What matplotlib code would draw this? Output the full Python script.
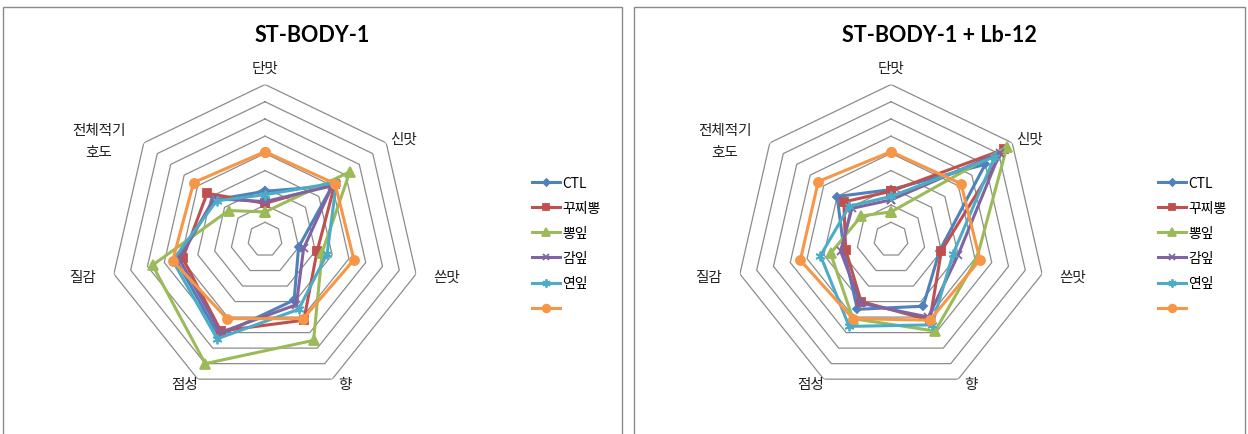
"""
plot.py

Sensory radar charts: ST-BODY-1 and ST-BODY-1 + Lb-12.
"""

import matplotlib

matplotlib.use("Agg")

import matplotlib.pyplot as plt
import numpy as np
from matplotlib.lines import Line2D
from matplotlib.patches import Rectangle

plt.rcParams["font.family"] = ["Noto Sans CJK KR", "DejaVu Sans"]

# ---------------------------------------------------------------- data
categories = ["단맛", "신맛", "쓴맛", "향", "점성", "질감", "전체적기\n호도"]
series_names = ["CTL", "꾸찌뽕", "뽕잎", "감잎", "연잎", ""]

# ST-BODY-1
left_ctl = [2.8, 5.0, 2.0, 3.9, 6.2, 5.3, 3.7]
left_kku = [2.1, 5.2, 3.1, 5.2, 5.9, 4.9, 4.3]
left_ppong = [1.6, 6.3, 3.4, 6.5, 8.0, 6.7, 2.7]
left_gam = [2.2, 5.0, 2.3, 4.2, 6.0, 5.1, 3.8]
left_yeon = [2.6, 5.3, 3.7, 4.5, 6.4, 5.5, 3.6]
left_ref = [5.1, 5.2, 5.3, 5.1, 5.1, 5.5, 5.3]

# ST-BODY-1 + Lb-12
right_ctl = [2.9, 7.0, 2.9, 4.3, 4.5, 2.8, 4.0]
right_kku = [2.8, 8.4, 3.0, 5.2, 4.0, 2.7, 3.5]
right_ppong = [1.6, 8.6, 5.1, 5.9, 5.1, 3.6, 2.2]
right_gam = [2.3, 8.1, 4.0, 5.0, 4.1, 3.0, 2.9]
right_yeon = [2.5, 7.7, 3.7, 5.5, 5.6, 4.2, 3.1]
right_ref = [5.1, 5.2, 5.3, 5.2, 5.1, 5.4, 5.4]

ring_values = [1, 2, 3, 4, 5, 6, 7, 8, 9]

# ---------------------------------------------------------------- style
W, H = 1248, 435
DPI = 100
RING_COLOR = "#8c8c8c"
BORDER_COLOR = "#8a8a8a"

COLORS = ["#4F81BD", "#C0504D", "#9BBB59", "#8064A2", "#4BACC6", "#F79646"]
MARKERS = ["D", "s", "^", "x", (6, 2, 0), "o"]
MARKER_SIZES = [4.5, 6, 6.5, 6, 7, 6.5]

# label offsets (pixels) from the outer vertex, with alignment
LABEL_OFFSETS = [
    (0, 17, "center", "center"),
    (4, 4, "left", "center"),
    (17, -3, "left", "center"),
    (6, -5, "left", "center"),
    (0, -5, "right", "center"),
    (-18, -3, "right", "center"),
    (-18, 2, "right", "center"),
]


def px(x, y):
    """Pixel position (from top-left) to figure fraction."""

    return x / W, 1 - y / H


def draw_panel(fig, x0, x1, title, cx, cy, radius, series, legend_x):

    # panel border
    fig.add_artist(
        Rectangle(
            px(x0, H + 10),
            (x1 - x0) / W,
            (H + 2) / H,
            transform=fig.transFigure,
            fill=False,
            edgecolor=BORDER_COLOR,
            linewidth=1.0,
        )
    )

    fig.text(
        *px((x0 + x1) / 2, 35),
        title,
        ha="center",
        va="center",
        fontsize=15.5,
        fontweight="bold",
        family=["Lato", "DejaVu Sans"],
    )

    left, top = px(cx - radius, cy - radius)
    ax = fig.add_axes(
        [left, top - 2 * radius / H, 2 * radius / W, 2 * radius / H],
        projection="polar",
    )
    ax.set_theta_zero_location("N")
    ax.set_theta_direction(-1)
    ax.set_ylim(0, ring_values[-1])
    ax.grid(False)
    ax.set_xticks([])
    ax.set_yticks([])
    ax.spines["polar"].set_visible(False)
    ax.patch.set_visible(False)

    n = len(categories)
    angles = np.linspace(0, 2 * np.pi, n, endpoint=False)
    closed = np.append(angles, angles[0])

    for r in ring_values:
        ax.plot(closed, [r] * (n + 1), color=RING_COLOR, linewidth=0.9, zorder=1)

    handles = []
    for i, values in enumerate(series):
        vals = list(values) + [values[0]]
        ax.plot(
            closed,
            vals,
            color=COLORS[i],
            linewidth=2.2,
            marker=MARKERS[i],
            markersize=MARKER_SIZES[i],
            markeredgewidth=1.3,
            markeredgecolor=COLORS[i],
            zorder=3 + i,
            clip_on=False,
        )
        handles.append(
            Line2D(
                [],
                [],
                color=COLORS[i],
                linewidth=2.2,
                marker=MARKERS[i],
                markersize=MARKER_SIZES[i] - 1,
                markeredgewidth=1.3,
            )
        )

    for angle, label, (dx, dy, ha, va) in zip(angles, categories, LABEL_OFFSETS):
        ax.annotate(
            label,
            xy=(angle, ring_values[-1]),
            xytext=(dx, dy),
            textcoords="offset pixels",
            ha=ha,
            va=va,
            multialignment="center",
            fontsize=10.5,
            color="#222222",
            linespacing=1.75,
            annotation_clip=False,
        )

    fig.legend(
        handles,
        series_names,
        loc="upper left",
        bbox_to_anchor=px(legend_x, 177),
        frameon=False,
        fontsize=10,
        handlelength=2.0,
        handletextpad=0.15,
        labelspacing=0.8,
        borderpad=0,
        borderaxespad=0,
    )

    return ax


def main():

    fig = plt.figure(figsize=(W / DPI, H / DPI), dpi=DPI)

    draw_panel(
        fig,
        3,
        622,
        "ST-BODY-1",
        265,
        240.5,
        155,
        [left_ctl, left_kku, left_ppong, left_gam, left_yeon, left_ref],
        532,
    )

    draw_panel(
        fig,
        634,
        1245,
        "ST-BODY-1 + Lb-12",
        891,
        240.5,
        155,
        [right_ctl, right_kku, right_ppong, right_gam, right_yeon, right_ref],
        1158,
    )

    fig.savefig("out.png", dpi=DPI)
    plt.close(fig)


if __name__ == "__main__":
    main()
